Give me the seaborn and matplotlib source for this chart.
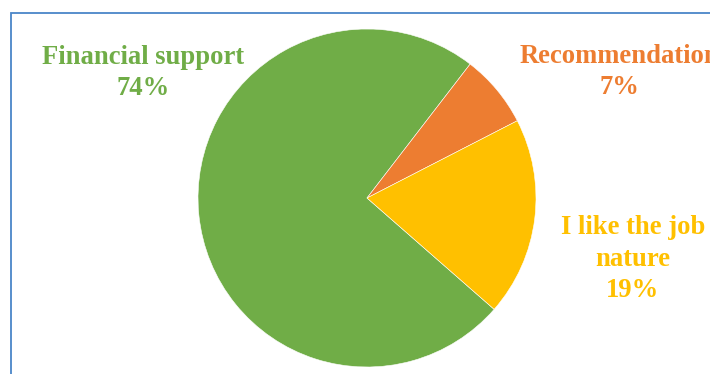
import matplotlib
matplotlib.use("Agg")
import matplotlib.pyplot as plt
import seaborn as sns
from matplotlib.patches import Rectangle

categories = ["Financial support", "Recommendation", "I like the job\nnature"]
values = [74, 7, 19]
colors = ["#70AD47", "#ED7D31", "#FFC000"]

sns.set_theme(style="white")
plt.rcParams['font.family'] = ['Liberation Serif', 'DejaVu Serif']

W, H = 710, 374
fig = plt.figure(figsize=(W / 100, H / 100), dpi=100)
ax = fig.add_axes([0, 0, 1, 1])

cx, cy, r = 367, H - 198, 169
ax.pie(values, colors=sns.color_palette(colors), startangle=-41.2, counterclock=False,
       center=(cx, cy), radius=r, frame=True,
       wedgeprops=dict(linewidth=0.4, edgecolor="white"))
ax.set_xlim(0, W)
ax.set_ylim(0, H)
ax.set_aspect("equal")
ax.axis("off")

# border of chart area
ax.add_patch(Rectangle((11, -20), W + 50, H - 13 + 20, fill=False,
                       edgecolor="#4A86C8", linewidth=1.3, clip_on=False))

label_pos = [(143, 73), (619, 72), (633, 259)]
for cat, val, col, (x, y) in zip(categories, values, colors, label_pos):
    ax.text(x, H - y, f"{cat}\n{val}%", ha="center", va="center", color=col,
            fontsize=19.2, fontweight="bold", linespacing=1.36)

fig.savefig("out.png", dpi=100)
